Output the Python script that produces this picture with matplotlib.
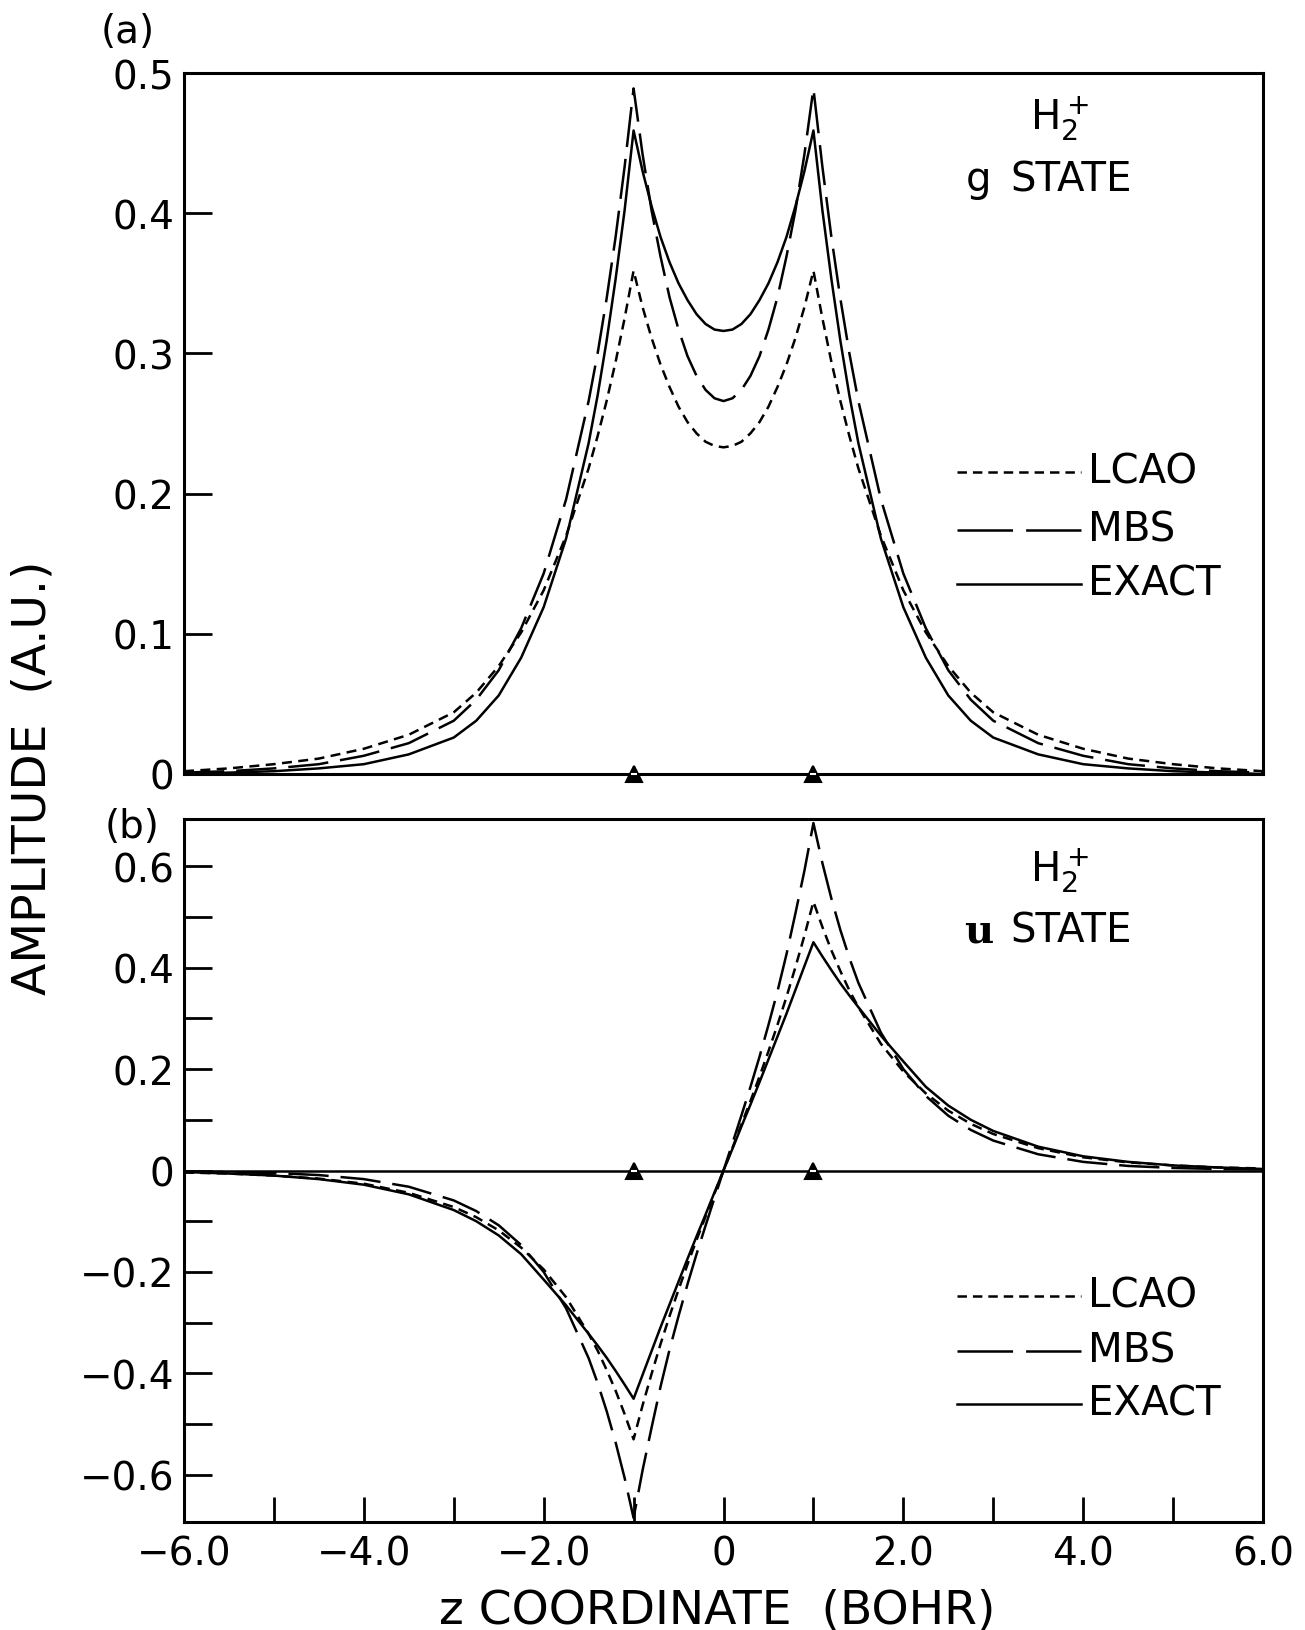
import matplotlib
matplotlib.use("Agg")
import matplotlib.pyplot as plt
from matplotlib.lines import Line2D

plt.rcParams["font.family"] = ["DejaVu Sans"]
plt.rcParams["mathtext.fontset"] = "dejavusans"
plt.rcParams["lines.scale_dashes"] = False

# ---------------- data ----------------
z = [-6.0, -5.5, -5.0, -4.5, -4.0, -3.5, -3.0, -2.75, -2.5, -2.25, -2.0, -1.75,
     -1.5, -1.4, -1.3, -1.2, -1.1,
     -1.0, -0.9, -0.8, -0.7, -0.6, -0.5, -0.4, -0.3, -0.2, -0.1, 0.0,
     0.1, 0.2, 0.3, 0.4, 0.5, 0.6, 0.7, 0.8, 0.9, 1.0,
     1.1, 1.2, 1.3, 1.4, 1.5, 1.75, 2.0, 2.25, 2.5, 2.75, 3.0, 3.5, 4.0, 4.5,
     5.0, 5.5, 6.0]

# (a) gerade state
g_lcao = [0.002, 0.004, 0.007, 0.011, 0.018, 0.028, 0.044, 0.058, 0.077, 0.101, 0.131, 0.170,
          0.218, 0.241, 0.266, 0.294, 0.325,
          0.359, 0.333, 0.311, 0.292, 0.276, 0.262, 0.251, 0.243, 0.237, 0.234, 0.233,
          0.234, 0.237, 0.243, 0.251, 0.262, 0.276, 0.292, 0.311, 0.333, 0.359,
          0.325, 0.294, 0.266, 0.241, 0.218, 0.170, 0.131, 0.101, 0.077, 0.058, 0.044, 0.028,
          0.018, 0.011, 0.007, 0.004, 0.002]
g_mbs = [0.001, 0.002, 0.004, 0.007, 0.013, 0.022, 0.038, 0.053, 0.074, 0.104, 0.143, 0.196,
         0.266, 0.300, 0.339, 0.383, 0.433,
         0.489, 0.442, 0.402, 0.369, 0.340, 0.317, 0.298, 0.284, 0.274, 0.268, 0.266,
         0.268, 0.274, 0.284, 0.298, 0.317, 0.340, 0.369, 0.402, 0.442, 0.489,
         0.433, 0.383, 0.339, 0.300, 0.266, 0.196, 0.143, 0.104, 0.074, 0.053, 0.038, 0.022,
         0.013, 0.007, 0.004, 0.002, 0.001]
g_exact = [0.000, 0.001, 0.002, 0.004, 0.007, 0.014, 0.026, 0.038, 0.056, 0.083, 0.119, 0.168,
           0.236, 0.270, 0.309, 0.353, 0.402,
           0.459, 0.430, 0.405, 0.383, 0.365, 0.350, 0.338, 0.328, 0.321, 0.317, 0.316,
           0.317, 0.321, 0.328, 0.338, 0.350, 0.365, 0.383, 0.405, 0.430, 0.459,
           0.402, 0.353, 0.309, 0.270, 0.236, 0.168, 0.119, 0.083, 0.056, 0.038, 0.026, 0.014,
           0.007, 0.004, 0.002, 0.001, 0.000]

# (b) ungerade state
u_lcao = [-0.004, -0.006, -0.010, -0.016, -0.026, -0.044, -0.072, -0.092, -0.118, -0.152, -0.195, -0.250,
          -0.322, -0.355, -0.393, -0.434, -0.480,
          -0.530, -0.463, -0.401, -0.342, -0.287, -0.235, -0.185, -0.137, -0.091, -0.045, 0.000,
          0.045, 0.091, 0.137, 0.185, 0.235, 0.287, 0.342, 0.401, 0.463, 0.530,
          0.480, 0.434, 0.393, 0.355, 0.322, 0.250, 0.195, 0.152, 0.118, 0.092, 0.072, 0.044,
          0.026, 0.016, 0.010, 0.006, 0.004]
u_mbs = [-0.002, -0.003, -0.005, -0.009, -0.017, -0.032, -0.059, -0.080, -0.108, -0.147, -0.200, -0.272,
         -0.370, -0.419, -0.474, -0.536, -0.606,
         -0.685, -0.591, -0.507, -0.426, -0.353, -0.287, -0.224, -0.165, -0.109, -0.054, 0.000,
         0.054, 0.109, 0.165, 0.224, 0.287, 0.353, 0.426, 0.507, 0.591, 0.685,
         0.606, 0.536, 0.474, 0.419, 0.370, 0.272, 0.200, 0.147, 0.108, 0.080, 0.059, 0.032,
         0.017, 0.009, 0.005, 0.003, 0.002]
u_exact = [-0.003, -0.006, -0.010, -0.017, -0.028, -0.047, -0.078, -0.100, -0.128, -0.165, -0.215, -0.266,
           -0.322, -0.345, -0.369, -0.395, -0.422,
           -0.450, -0.403, -0.356, -0.309, -0.264, -0.219, -0.174, -0.130, -0.087, -0.043, 0.000,
           0.043, 0.087, 0.130, 0.174, 0.219, 0.264, 0.309, 0.356, 0.403, 0.450,
           0.422, 0.395, 0.369, 0.345, 0.322, 0.266, 0.215, 0.165, 0.128, 0.100, 0.078, 0.047,
           0.028, 0.017, 0.010, 0.006, 0.003]

nuclei = [-1.0, 1.0]

series_names = ["LCAO", "MBS", "EXACT"]

g_yticks = [0.0, 0.1, 0.2, 0.3, 0.4, 0.5]
g_yticklabels = ["0", "0.1", "0.2", "0.3", "0.4", "0.5"]
u_yticks = [-0.6, -0.4, -0.2, 0.0, 0.2, 0.4, 0.6]
u_yticklabels = ["\u22120.6", "\u22120.4", "\u22120.2", "0", "0.2", "0.4", "0.6"]
u_yminor = [-0.5, -0.3, -0.1, 0.1, 0.3, 0.5]
xticks = [-6, -5, -4, -3, -2, -1, 0, 1, 2, 3, 4, 5, 6]
xticklabels = ["\u22126.0", "", "\u22124.0", "", "\u22122.0", "", "0", "", "2.0", "", "4.0", "", "6.0"]

# ---------------- figure ----------------
W, H = 1305, 1631
fig = plt.figure(figsize=(W / 100, H / 100), dpi=100)


def rect(left, top, right, bottom):
    return [left / W, 1 - bottom / H, (right - left) / W, (bottom - top) / H]


def fp(x, y):
    return (x / W, 1 - y / H)


ax1 = fig.add_axes(rect(184, 74, 1263, 775))
ax2 = fig.add_axes(rect(184, 820, 1263, 1523))

LW = 1.8
styles = {
    "LCAO": dict(color="black", lw=LW, linestyle=(0, (7.2, 4.6))),
    "MBS": dict(color="black", lw=LW, linestyle=(0, (29.0, 8.6))),
    "EXACT": dict(color="black", lw=LW, linestyle="-"),
}
legend_styles = {
    "LCAO": dict(color="black", lw=LW, linestyle=(0, (6.8, 4.3))),
    "MBS": dict(color="black", lw=LW, linestyle=(0, (40.0, 9.4))),
    "EXACT": dict(color="black", lw=LW, linestyle="-"),
}

for ax, data in ((ax1, (g_lcao, g_mbs, g_exact)), (ax2, (u_lcao, u_mbs, u_exact))):
    for name, vals in zip(series_names, data):
        ax.plot(z, vals, **styles[name])
    ax.set_xlim(-6, 6)
    for s in ax.spines.values():
        s.set_linewidth(2.2)

ax1.set_ylim(0, 0.5)
ax2.set_ylim(-0.693, 0.693)
ax2.axhline(0, color="black", lw=1.8)

# nuclear positions
for ax in (ax1, ax2):
    ax.plot(nuclei, [0, 0], marker="^", ls="none", ms=11, mfc="black",
            mec="black", mew=1.5, clip_on=False, zorder=6)
    ax.plot(nuclei, [0, 0], marker="_", ls="none", ms=4, mec="white",
            mew=1.5, clip_on=False, zorder=7)

# ticks
ax1.set_xticks([])
ax1.set_yticks(g_yticks)
ax1.set_yticklabels(g_yticklabels)
ax1.tick_params(axis="y", direction="in", length=20, width=2, labelsize=28, pad=7)

ax2.set_xticks(xticks)
ax2.set_xticklabels(xticklabels)
ax2.set_yticks(u_yticks)
ax2.set_yticklabels(u_yticklabels)
ax2.set_yticks(u_yminor, minor=True)
ax2.tick_params(axis="y", which="both", direction="in", length=20, width=2, labelsize=28, pad=7)
ax2.tick_params(axis="x", direction="in", length=18, width=2, labelsize=28, pad=9)

# axis titles
fig.text(*fp(33, 778), "AMPLITUDE  (A.U.)", rotation=90, ha="center", va="center", fontsize=34)
fig.text(*fp(717, 1611), "z COORDINATE  (BOHR)", ha="center", va="center", fontsize=34)

# panel tags
fig.text(*fp(128, 32), "(a)", ha="center", va="center", fontsize=28)
fig.text(*fp(132, 827), "(b)", ha="center", va="center", fontsize=28)

# state annotations
for top, letter, fam in ((0, "g", "DejaVu Sans"), (752, "u", "DejaVu Serif")):
    fig.text(*fp(1030, 130 + top), r"H$_2^+$", ha="left", va="baseline", fontsize=29)
    fig.text(*fp(979, 191 + top), letter, ha="center", va="baseline", fontsize=29,
             family=fam, weight="bold" if letter == "u" else "normal")
    fig.text(*fp(1010, 191 + top), "STATE", ha="left", va="baseline", fontsize=29)

# legends
for ys in ((473, 531, 585), (1297, 1352, 1405)):
    for name, y in zip(series_names, ys):
        fig.add_artist(Line2D([957 / W, 1081 / W], [1 - y / H] * 2,
                              transform=fig.transFigure, **legend_styles[name]))
        fig.text(*fp(1088, y), name, ha="left", va="center", fontsize=29)

fig.savefig("out.png", dpi=100)
